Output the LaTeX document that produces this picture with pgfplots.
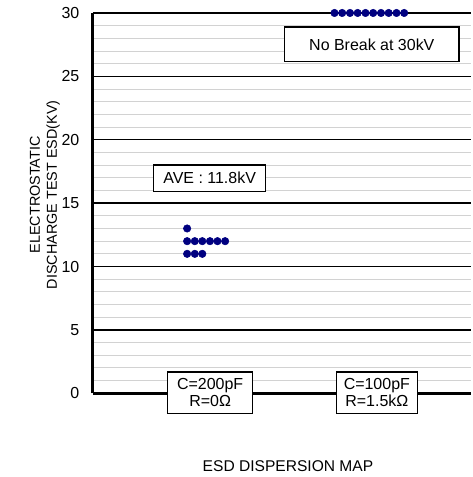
\documentclass[border=0pt]{standalone}
\usepackage{pgfplots}
\pgfplotsset{compat=1.18}
\usepackage{fontspec}
\setmainfont{Liberation Sans}
\definecolor{dotblue}{RGB}{0,0,128}
\definecolor{minorgray}{RGB}{210,210,210}
\begin{document}
\begin{tikzpicture}
\fontsize{12bp}{14bp}\selectfont
\begin{axis}[
  width=284.25bp, height=285.75bp, scale only axis,
  xmin=0.2964, xmax=2.5659,
  ymin=0, ymax=30,
  clip=false,
  axis x line*=bottom, axis y line*=left,
  axis line style={-, line width=2.2bp, black},
  xtick=\empty,
  ytick={0,5,10,15,20,25,30},
  minor y tick num=4,
  ymajorgrids, yminorgrids,
  major grid style={black, line width=1.1bp},
  minor grid style={minorgray, line width=0.75bp},
  major tick length=0pt, minor tick length=0pt,
  tick style={draw=none},
  /pgf/number format/assume math mode=true,
  yticklabel style={font=\fontsize{12bp}{14bp}\selectfont, xshift=-6bp},
  xlabel={ESD DISPERSION MAP},
  xlabel style={font=\fontsize{11.7bp}{14bp}\selectfont, at={(axis description cs:0.5158,-0.1916)}, anchor=center},
  ylabel={ELECTROSTATIC\\DISCHARGE TEST ESD(KV)},
  ylabel style={font=\fontsize{10.8bp}{12.8bp}\selectfont, align=center, at={(axis description cs:-0.127,0.522)}, anchor=center, inner sep=0pt},
]
\path (axis description cs:-0.2454,1.0341) rectangle (axis description cs:1,-0.2178);
\addplot[only marks, mark=*, mark size=2.8bp, mark options={fill=dotblue, draw=dotblue}] coordinates {
  (0.862,13)
  (0.862,12) (0.908,12) (0.953,12) (0.999,12) (1.044,12) (1.090,12)
  (0.862,11) (0.908,11) (0.953,11)
};
\addplot[only marks, mark=*, mark size=2.8bp, mark options={fill=dotblue, draw=dotblue}] coordinates {
  (1.746,30) (1.792,30) (1.839,30) (1.885,30) (1.932,30)
  (1.978,30) (2.025,30) (2.071,30) (2.118,30) (2.164,30)
};
\node[draw=black, line width=1.1bp, fill=white, minimum width=131bp, minimum height=26bp, inner sep=0pt] at (axis cs:1.970,27.52) {No Break at 30kV};
\node[draw=black, line width=1.1bp, fill=white, minimum width=84bp, minimum height=20bp, inner sep=0pt] at (axis cs:0.997,16.97) {AVE : 11.8kV};
\node[draw=black, line width=1.1bp, fill=white, minimum width=64bp, minimum height=31bp, inner sep=0pt, align=center, font=\fontsize{12bp}{13bp}\selectfont] at (axis cs:1,0.04) {C=200pF\\R=0Ω};
\node[draw=black, line width=1.1bp, fill=white, minimum width=61bp, minimum height=31bp, inner sep=0pt, align=center, font=\fontsize{12bp}{13bp}\selectfont] at (axis cs:2,0.04) {C=100pF\\R=1.5kΩ};
\end{axis}
\end{tikzpicture}
\end{document}
